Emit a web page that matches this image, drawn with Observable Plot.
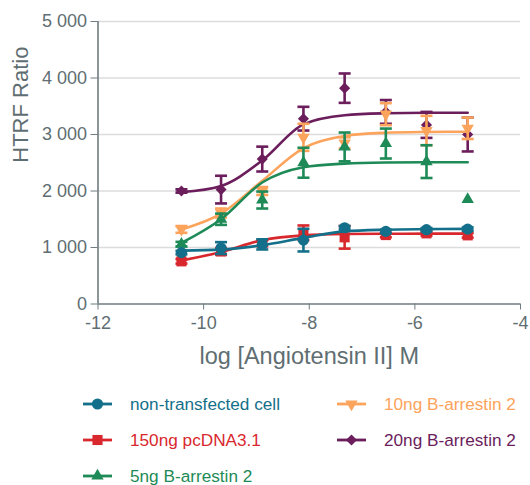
<!DOCTYPE html>
<html>
<head>
<meta charset="utf-8">
<script src="https://cdn.jsdelivr.net/npm/d3@7"></script>
<script src="https://cdn.jsdelivr.net/npm/@observablehq/plot@0.6"></script>
<style>
  html, body { margin: 0; padding: 0; background: #fff; }
  body { width: 530px; font-family: "Liberation Sans", Arial, sans-serif; }
  #legend { position: relative; width: 530px; height: 113px; font-size: 17.2px; }
  .item { position: absolute; height: 20px; display: flex; align-items: center; white-space: nowrap; }
  .item span { margin-left: 18px; }
</style>
</head>
<body>
<div id="chart"></div>
<div id="legend"></div>
<script>
// ---- data ----
const logDose = [-10.42, -9.67, -8.89, -8.11, -7.33, -6.55, -5.78, -5.0];

const seriesNames = ["non-transfected cell", "150ng pcDNA3.1", "5ng B-arrestin 2", "10ng B-arrestin 2", "20ng B-arrestin 2"];
const seriesColors = ["#14708a", "#d8282e", "#1e8a57", "#fca35c", "#6b1d5c"];

const nonTransMean = [910, 990, 1055, 1130, 1350, 1285, 1315, 1325];
const nonTransErr  = [30, 105, 90, 200, 30, 30, 30, 30];
const nonTransFit  = [945, 962, 1040, 1170, 1285, 1315, 1325, 1330];

const pcdnaMean = [755, 930, 1075, 1260, 1180, 1220, 1250, 1215];
const pcdnaErr  = [40, 60, 50, 130, 200, 40, 40, 40];
const pcdnaFit  = [770, 920, 1130, 1215, 1238, 1243, 1245, 1245];

const b5Mean = [1060, 1500, 1840, 2500, 2780, 2840, 2520, 1850];
const b5Err  = [40, 100, 150, 265, 255, 265, 290, 0];
const b5Fit  = [1080, 1500, 2150, 2420, 2485, 2505, 2510, 2510];

const b10Mean = [1320, 1610, 2000, 2950, 2850, 3360, 3070, 3110];
const b10Err  = [60, 80, 70, 240, 100, 195, 260, 190];
const b10Fit  = [1320, 1600, 2180, 2760, 2975, 3030, 3045, 3050];

const b20Mean = [2000, 2025, 2565, 3280, 3820, 3400, 3170, 3000];
const b20Err  = [30, 245, 220, 210, 260, 210, 230, 300];
const b20Fit  = [1980, 2090, 2540, 3180, 3340, 3375, 3385, 3385];

const yTicks = [0, 1000, 2000, 3000, 4000, 5000];
const xTicks = [-12, -10, -8, -6, -4];

// ---- symbols ----
const invTriangle = {
  draw(ctx, size) {
    const s = Math.sqrt(size / (Math.sqrt(3) / 4));
    const h = s * Math.sqrt(3) / 2;
    ctx.moveTo(0, 2 * h / 3);
    ctx.lineTo(s / 2, -h / 3);
    ctx.lineTo(-s / 2, -h / 3);
    ctx.closePath();
  }
};
const capSymbol = { draw(ctx) { ctx.moveTo(-6, 0); ctx.lineTo(6, 0); } };

const seriesDefs = [
  {mean: nonTransMean, err: nonTransErr, fit: nonTransFit, symbol: "circle", r: 5.6},
  {mean: pcdnaMean, err: pcdnaErr, fit: pcdnaFit, symbol: "square", r: 5.7},
  {mean: b5Mean, err: b5Err, fit: b5Fit, symbol: "triangle", r: 4.6},
  {mean: b10Mean, err: b10Err, fit: b10Fit, symbol: invTriangle, r: 4.6},
  {mean: b20Mean, err: b20Err, fit: b20Fit, symbol: "diamond2", r: 5.0}
].map((d, i) => ({...d, name: seriesNames[i], color: seriesColors[i]}));

const axisColor = "#5f6e72";
const fmt = d => d3.format(",")(d).replace(/,/g, " ");

const marks = [
  Plot.gridY({ticks: yTicks.filter(t => t > 0), stroke: "#dcdcdc", strokeOpacity: 1, strokeWidth: 1.5}),
  Plot.ruleX([-12], {stroke: "#6f7c80", strokeWidth: 1.6}),
  Plot.ruleY([0], {stroke: "#6f7c80", strokeWidth: 1.6}),
  Plot.axisY({ticks: yTicks, tickFormat: fmt, tickSize: 7, tickPadding: 4, fontSize: 18, color: axisColor, stroke: "#6f7c80", label: null}),
  Plot.axisX({ticks: xTicks, tickFormat: d => d3.format("d")(d).replace("−", "-"), tickSize: 6, tickPadding: 6, fontSize: 18, color: axisColor, stroke: "#6f7c80", label: null}),
  Plot.text(["log [Angiotensin II] M"], {frameAnchor: "bottom", dy: 60, fontSize: 23.5, fill: axisColor}),
  Plot.text(["HTRF Ratio"], {frameAnchor: "left", dx: -77, rotate: -90, fontSize: 22, fill: axisColor})
];

// draw in reverse legend order so that the first series sits on top
for (const s of [...seriesDefs].reverse()) {
  const rows = logDose.map((x, i) => ({x, y: s.mean[i], e: s.err[i], f: s.fit[i]}));
  const bars = rows.filter(d => d.e > 0);
  marks.push(
    Plot.line(rows, {x: "x", y: "f", stroke: s.color, strokeWidth: 2.6, curve: "monotone-x"}),
    Plot.ruleX(bars, {x: "x", y1: d => d.y - d.e, y2: d => d.y + d.e, stroke: s.color, strokeWidth: 2.6}),
    Plot.dot(bars, {x: "x", y: d => d.y - d.e, symbol: capSymbol, stroke: s.color, strokeWidth: 2.6, fill: "none"}),
    Plot.dot(bars, {x: "x", y: d => d.y + d.e, symbol: capSymbol, stroke: s.color, strokeWidth: 2.6, fill: "none"}),
    Plot.dot(rows, {x: "x", y: "y", symbol: s.symbol, r: s.r, fill: s.color, stroke: "none"})
  );
}

const chart = Plot.plot({
  width: 530,
  height: 372,
  marginLeft: 97.5,
  marginRight: 10,
  marginTop: 21,
  marginBottom: 68.5,
  x: {domain: [-12, -4]},
  y: {domain: [0, 5000]},
  style: {fontFamily: "'Liberation Sans', Arial, sans-serif", color: axisColor, background: "#fff"},
  marks
});
document.getElementById("chart").appendChild(chart);

// ---- legend ----
const legend = d3.select("#legend");
const symbolFor = s => typeof s.symbol === "string"
  ? {circle: d3.symbolCircle, square: d3.symbolSquare, triangle: d3.symbolTriangle, diamond2: d3.symbolDiamond2}[s.symbol]
  : s.symbol;
const positions = [[83, 32], [83, 68], [83, 104], [337, 32], [337, 68]];
seriesDefs.forEach((s, i) => {
  const [left, cy] = positions[i];
  const item = legend.append("div").attr("class", "item")
    .style("left", left + "px").style("top", (cy - 10) + "px");
  const svg = item.append("svg").attr("width", 29).attr("height", 20);
  svg.append("line").attr("x1", 0).attr("x2", 29).attr("y1", 10).attr("y2", 10)
    .attr("stroke", s.color).attr("stroke-width", 2.8);
  svg.append("path").attr("transform", "translate(14.5,10)")
    .attr("d", d3.symbol(symbolFor(s), s.r * s.r * Math.PI)())
    .attr("fill", s.color);
  item.append("span").text(s.name).style("color", s.color);
});
</script>
</body>
</html>
